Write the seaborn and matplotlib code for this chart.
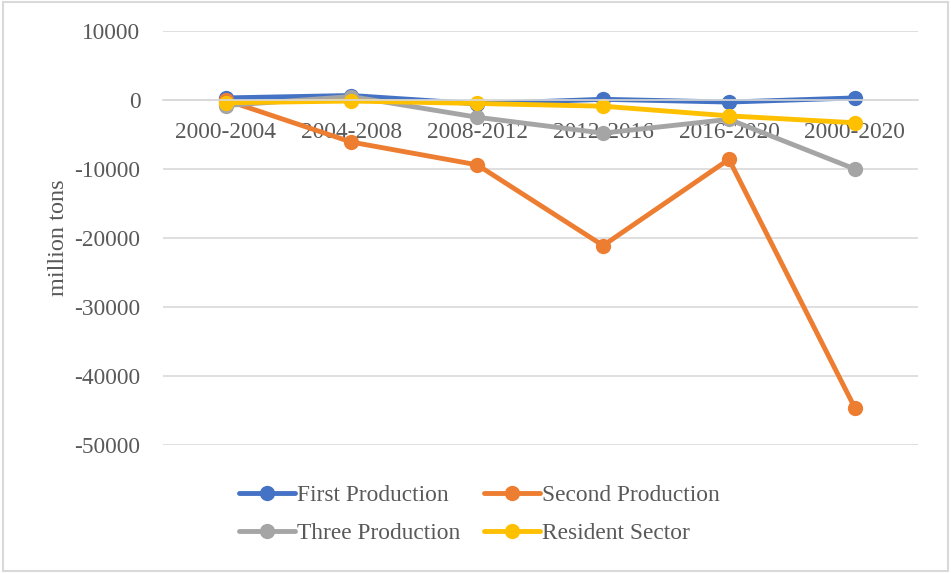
import numpy as np
import pandas as pd
from matplotlib import pyplot as plt
from matplotlib.patches import Rectangle
import seaborn as sns

# DATA
periods = ['2000-2004', '2004-2008', '2008-2012', '2012-2016', '2016-2020', '2000-2020']
first_production = [300, 650, -550, 100, -300, 300]
second_production = [0, -6100, -9400, -21100, -8600, -44600]
three_production = [-800, 500, -2500, -4800, -2800, -10000]
resident_sector = [-400, -150, -500, -900, -2300, -3300]

series = {
    'First Production': first_production,
    'Second Production': second_production,
    'Three Production': three_production,
    'Resident Sector': resident_sector,
}
colors = ['#4472C4', '#ED7D31', '#A5A5A5', '#FFC000']

rows = []
for name, vals in series.items():
    for p, v in zip(periods, vals):
        rows.append({'period': p, 'value': v, 'sector': name})
df = pd.DataFrame(rows)

# PLOT
sns.set_style('white')
plt.rcParams['font.family'] = ['Liberation Serif', 'DejaVu Serif']
plt.rcParams['axes.unicode_minus'] = False

fig = plt.figure(figsize=(9.51, 5.73), dpi=100)
ax = fig.add_axes([0.171, 0.2234, 0.794, 0.7225])

sns.lineplot(data=df, x='period', y='value', hue='sector', palette=colors,
             marker='o', markersize=11, markeredgewidth=0, linewidth=3.5,
             sort=False, ax=ax, legend=True)

ax.set_ylim(-50000, 10000)
ax.set_xlim(-0.5, 5.5)
ax.set_yticks(np.arange(-50000, 10001, 10000))
ax.yaxis.grid(True, color='#D9D9D9', linewidth=1.2)
ax.set_axisbelow(True)

for s in ['top', 'right', 'left']:
    ax.spines[s].set_visible(False)
ax.spines['bottom'].set_position(('data', 0))
ax.spines['bottom'].set_color('#D9D9D9')
ax.spines['bottom'].set_linewidth(1.2)

ax.tick_params(axis='both', length=0, labelsize=16.8, labelcolor='#595959')
ax.tick_params(axis='y', pad=16)
ax.tick_params(axis='x', pad=16)
ax.set_xlabel('')
ax.set_ylabel('million tons', fontsize=17.5, color='#595959', labelpad=4)
ax.yaxis.set_label_coords(-0.124, 0.5)

handles, labels = ax.get_legend_handles_labels()
ax.legend_.remove()
order = [0, 2, 1, 3]
fig.legend([handles[i] for i in order], [labels[i] for i in order],
           loc='center', bbox_to_anchor=(0.504, 0.102), ncol=2,
           frameon=False, fontsize=16.8, labelcolor='#595959', handlelength=2.4,
           handletextpad=0.1, columnspacing=1.0, labelspacing=0.7, borderpad=0.2)

fig.patches.append(Rectangle((0.003, 0.004), 0.994, 0.992, transform=fig.transFigure,
                             fill=False, edgecolor='#D9D9D9', linewidth=1.5))

fig.savefig('out.png')
plt.close()
